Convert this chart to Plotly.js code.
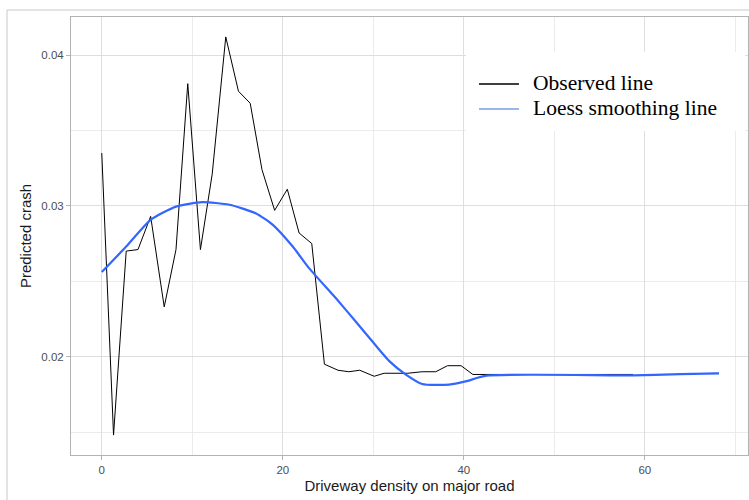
<!DOCTYPE html>
<html>
<head>
<meta charset="utf-8">
<script src="https://cdn.plot.ly/plotly-3.0.1.min.js"></script>
<style>html,body{margin:0;padding:0;background:#fff;}#chart{width:749px;height:500px;}</style>
</head>
<body>
<div id="chart"></div>
<script>
// Observed line (black); null marks the gap before the short end piece
var observedX = [0, 1.3, 2.7, 4.0, 5.4, 6.9, 8.2, 9.5, 10.9, 12.2, 13.7, 15.1, 16.4, 17.7, 19.1, 20.5, 21.8, 23.2, 24.6, 26.1, 27.3, 28.5, 30.1, 31.2, 33.8, 35.4, 36.9, 38.2, 39.7, 41.0, 58.7, null, 67.4, 68.2];
var observedY = [0.0335, 0.0148, 0.0270, 0.0271, 0.0293, 0.0233, 0.0271, 0.0381, 0.0271, 0.0321, 0.0412, 0.0376, 0.0368, 0.0324, 0.0297, 0.0311, 0.0282, 0.0275, 0.0195, 0.0191, 0.0190, 0.0191, 0.0187, 0.0189, 0.0189, 0.0190, 0.0190, 0.0194, 0.0194, 0.01882, 0.01882, null, 0.01889, 0.01889];

// Loess smoothing line (blue)
var loessX = [0, 2.7, 5.4, 8.2, 11.1, 14.1, 17.0, 18.9, 21.1, 22.9, 25.9, 28.1, 30.3, 31.8, 33.6, 35.4, 38.4, 40.2, 42.5, 58.7, 63.9, 68.2];
var loessY = [0.02561, 0.02730, 0.02907, 0.02995, 0.03024, 0.03007, 0.02951, 0.02874, 0.02730, 0.02587, 0.02385, 0.02230, 0.02072, 0.01969, 0.01881, 0.01819, 0.01815, 0.01836, 0.01874, 0.01876, 0.01884, 0.01889];

var legendLabels = ["Observed line", "Loess smoothing line"];
var legendColors = ["#000000", "#7A9FE0"];

var traces = [
  {x: observedX, y: observedY, type: "scatter", mode: "lines", line: {color: "#000000", width: 1}, showlegend: false, connectgaps: false, hoverinfo: "none"},
  {x: loessX, y: loessY, type: "scatter", mode: "lines", line: {color: "#3366FF", width: 2.2, shape: "spline", smoothing: 0.6}, showlegend: false, hoverinfo: "none"}
];

// paper coordinate helpers (plot area: x 71..748, y 17..455)
function px(v){ return (v - 71) / 677; }
function py(v){ return (455 - v) / 438; }

var shapes = [
  // outer frame
  {type: "line", xref: "paper", yref: "paper", x0: px(7), x1: px(749), y0: py(10), y1: py(10), line: {color: "#C8C8C8", width: 1}},
  {type: "line", xref: "paper", yref: "paper", x0: px(7), x1: px(7), y0: py(10), y1: py(500), line: {color: "#C8C8C8", width: 1}},
  // legend box
  {type: "rect", xref: "paper", yref: "paper", x0: px(466), x1: px(745), y0: py(52), y1: py(131), fillcolor: "#FFFFFF", line: {width: 0}, layer: "above"}
];
var annotations = [];
var legY = [84, 109];
for (var i = 0; i < legendLabels.length; i++) {
  shapes.push({type: "line", xref: "paper", yref: "paper", x0: px(479), x1: px(519), y0: py(legY[i]), y1: py(legY[i]), line: {color: legendColors[i], width: 1.3}, layer: "above"});
  annotations.push({xref: "paper", yref: "paper", x: px(531), y: py(legY[i] - 1), xanchor: "left", yanchor: "middle", showarrow: false, text: legendLabels[i], font: {family: "Liberation Serif, Times New Roman, serif", size: 21.5, color: "#000000"}});
}

var layout = {
  width: 749, height: 500,
  margin: {l: 71, r: 1, t: 17, b: 45, pad: 0},
  paper_bgcolor: "#FFFFFF", plot_bgcolor: "#FFFFFF",
  font: {family: "Liberation Sans, Arial, sans-serif"},
  xaxis: {
    range: [-3.4, 71.4], tickvals: [0, 20, 40, 60], ticktext: ["0", "20", "40", "60"],
    showgrid: true, gridcolor: "#DEDEDE", gridwidth: 1,
    minor: {tickvals: [10, 30, 50, 70], showgrid: true, gridcolor: "#EBEBEB", gridwidth: 1, ticks: ""},
    zeroline: false, showline: true, mirror: true, linecolor: "#B3B3B3", linewidth: 1,
    ticks: "outside", ticklen: 4, tickcolor: "#B3B3B3", tickwidth: 1,
    tickfont: {size: 11.5, color: "#4D4D4D"},
    title: {text: "Driveway density on major road", font: {size: 15, color: "#1A1A1A"}, standoff: 5}
  },
  yaxis: {
    range: [0.01348, 0.04252], tickvals: [0.02, 0.03, 0.04], ticktext: ["0.02", "0.03", "0.04"],
    showgrid: true, gridcolor: "#DEDEDE", gridwidth: 1,
    minor: {tickvals: [0.015, 0.025, 0.035], showgrid: true, gridcolor: "#EBEBEB", gridwidth: 1, ticks: ""},
    zeroline: false, showline: true, mirror: true, linecolor: "#B3B3B3", linewidth: 1,
    ticks: "outside", ticklen: 4, tickcolor: "#B3B3B3", tickwidth: 1,
    tickfont: {size: 11.5, color: "#4D4D4D"},
    title: {text: "Predicted crash", font: {size: 15, color: "#1A1A1A"}, standoff: 6}
  },
  shapes: shapes,
  annotations: annotations,
  showlegend: false
};

Plotly.newPlot("chart", traces, layout, {staticPlot: true, displayModeBar: false});
</script>
</body>
</html>
